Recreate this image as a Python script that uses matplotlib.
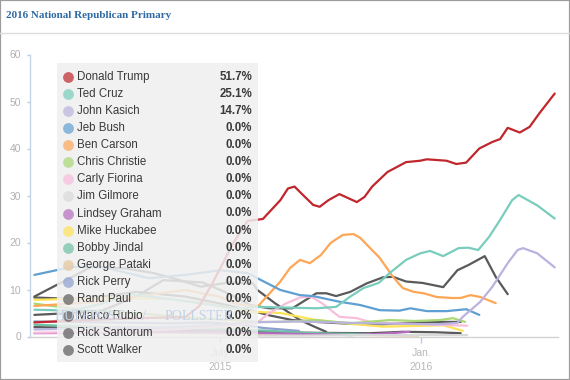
import matplotlib
matplotlib.use('Agg')
import matplotlib.pyplot as plt
import numpy as np
import pandas as pd
from matplotlib.patches import Rectangle
from matplotlib.lines import Line2D

# ---------------- data ----------------
candidates = ['Donald Trump', 'Ted Cruz', 'John Kasich', 'Jeb Bush', 'Ben Carson',
              'Chris Christie', 'Carly Fiorina', 'Jim Gilmore', 'Lindsey Graham',
              'Mike Huckabee', 'Bobby Jindal', 'George Pataki', 'Rick Perry',
              'Rand Paul', 'Marco Rubio', 'Rick Santorum', 'Scott Walker']
legend_values = ['51.7%', '25.1%', '14.7%', '0.0%', '0.0%', '0.0%', '0.0%', '0.0%',
                 '0.0%', '0.0%', '0.0%', '0.0%', '0.0%', '0.0%', '0.0%', '0.0%', '0.0%']
colors = ['#c0272d', '#79cdbd', '#b9b3dd', '#5f9fd1', '#fda656', '#a9d875',
          '#f9bddc', '#d9d9d9', '#b66cbd', '#fde357', '#6fc1a5', '#e5c59a',
          '#8d9fd0', '#5a5a5a', '#5a5a5a', '#5a5a5a', '#5a5a5a']

trump_dates = ['2015-01-12', '2015-03-01', '2015-05-01', '2015-05-30', '2015-06-12',
               '2015-06-24', '2015-07-13', '2015-07-26', '2015-08-09', '2015-08-25',
               '2015-09-01', '2015-09-07', '2015-09-13', '2015-09-24', '2015-09-30',
               '2015-10-08', '2015-10-18', '2015-11-03', '2015-11-10', '2015-11-17',
               '2015-12-01', '2015-12-18', '2015-12-31', '2016-01-06', '2016-01-24',
               '2016-02-02', '2016-02-11', '2016-02-23', '2016-03-06', '2016-03-13',
               '2016-03-20', '2016-03-31', '2016-04-09', '2016-04-18', '2016-05-02']
trump = [3.0, 3.5, 4.0, 4.1, 6.5, 11.4, 19.9, 24.6, 25.0, 29.0, 31.5, 31.9, 30.5, 28.0,
         27.6, 29.0, 30.3, 28.6, 29.7, 31.9, 35.0, 37.1, 37.4, 37.7, 37.4, 36.7, 37.0,
         40.0, 41.4, 42.0, 44.4, 43.4, 44.6, 47.5, 51.7]

cruz_dates = ['2015-01-12', '2015-02-15', '2015-03-15', '2015-04-10', '2015-05-15',
              '2015-06-15', '2015-07-15', '2015-08-06', '2015-09-27', '2015-10-15',
              '2015-10-28', '2015-11-09', '2015-11-23', '2015-12-03', '2015-12-18',
              '2015-12-31', '2016-01-09', '2016-01-21', '2016-02-04', '2016-02-13',
              '2016-02-22', '2016-03-03', '2016-03-13', '2016-03-24', '2016-03-30',
              '2016-04-16', '2016-05-02']
cruz = [5.7, 5.5, 7.0, 9.0, 8.0, 7.0, 6.0, 6.3, 6.0, 6.3, 8.5, 10.3, 11.4, 13.5, 16.3,
        17.7, 18.2, 17.1, 18.8, 18.9, 18.4, 21.2, 24.8, 29.0, 30.1, 27.9, 25.1]

kasich_dates = ['2015-01-12', '2015-03-15', '2015-05-15', '2015-07-01', '2015-07-28',
                '2015-09-05', '2015-10-15', '2015-11-15', '2015-12-15', '2016-01-15',
                '2016-02-03', '2016-02-08', '2016-02-24', '2016-03-06', '2016-03-20',
                '2016-03-29', '2016-04-03', '2016-04-16', '2016-05-02']
kasich = [1.5, 1.8, 2.0, 2.5, 3.0, 3.2, 3.0, 2.8, 2.7, 2.6, 2.9, 4.2, 7.4, 10.6, 15.6,
          18.4, 18.8, 17.7, 14.7]

bush_dates = ['2015-01-12', '2015-02-15', '2015-03-15', '2015-04-27', '2015-05-30',
              '2015-07-01', '2015-07-26', '2015-08-04', '2015-08-25', '2015-09-12',
              '2015-09-24', '2015-10-18', '2015-11-06', '2015-11-24', '2015-12-12',
              '2015-12-22', '2016-01-06', '2016-01-24', '2016-02-11', '2016-02-23']
bush = [13.1, 14.8, 14.8, 12.4, 13.1, 14.1, 13.5, 12.4, 9.9, 8.8, 8.6, 7.4, 6.7, 5.6,
        5.5, 6.0, 5.4, 5.4, 5.8, 4.6]

carson_dates = ['2015-01-12', '2015-02-15', '2015-03-15', '2015-04-15', '2015-05-30',
                '2015-06-30', '2015-07-13', '2015-08-04', '2015-08-25', '2015-09-03',
                '2015-09-12', '2015-09-21', '2015-10-01', '2015-10-10', '2015-10-21',
                '2015-10-31', '2015-11-06', '2015-11-24', '2015-12-06', '2015-12-15',
                '2015-12-25', '2016-01-03', '2016-01-15', '2016-01-28', '2016-02-06',
                '2016-02-15', '2016-02-24', '2016-03-09']
carson = [6.5, 7.0, 7.5, 8.5, 9.9, 8.5, 7.1, 6.3, 11.7, 14.6, 16.3, 15.6, 17.3, 19.9,
          21.6, 21.8, 21.0, 16.7, 12.7, 10.3, 9.5, 9.2, 8.4, 8.2, 8.2, 8.8, 8.4, 7.1]

christie_dates = ['2015-01-12', '2015-03-01', '2015-04-15', '2015-06-01', '2015-07-15',
                  '2015-08-04', '2015-08-25', '2015-09-27', '2015-10-28', '2015-12-03',
                  '2015-12-26', '2016-01-18', '2016-01-30', '2016-02-10']
christie = [7.0, 5.5, 5.0, 4.0, 3.5, 3.1, 3.1, 3.5, 2.8, 3.5, 3.3, 3.5, 3.9, 3.1]

fiorina_dates = ['2015-01-12', '2015-03-15', '2015-05-15', '2015-07-01', '2015-08-04',
                 '2015-08-15', '2015-08-30', '2015-09-12', '2015-09-22', '2015-10-02',
                 '2015-10-18', '2015-11-03', '2015-11-15', '2015-12-08', '2016-01-15',
                 '2016-02-12']
fiorina = [0.8, 1.0, 1.5, 2.0, 3.0, 5.0, 7.0, 8.3, 8.5, 7.1, 4.2, 3.9, 3.1, 2.8, 2.5, 2.3]

gilmore_dates = ['2015-07-28', '2015-09-15', '2015-11-01', '2015-12-15', '2016-02-12']
gilmore = [0.2, 0.2, 0.3, 0.3, 0.3]

graham_dates = ['2015-01-12', '2015-03-01', '2015-05-01', '2015-07-01', '2015-09-01',
                '2015-10-28', '2015-11-20', '2015-12-10', '2015-12-21']
graham = [0.7, 0.8, 1.0, 0.9, 0.6, 0.3, 0.5, 0.8, 1.0]

huckabee_dates = ['2015-01-12', '2015-03-15', '2015-05-15', '2015-06-20', '2015-07-28',
                  '2015-08-25', '2015-09-27', '2015-10-28', '2015-11-27', '2016-01-05',
                  '2016-01-21', '2016-02-08']
huckabee = [7.8, 8.2, 8.0, 7.0, 5.3, 5.0, 3.5, 2.7, 2.1, 2.3, 2.4, 1.2]

jindal_dates = ['2015-01-12', '2015-03-15', '2015-05-15', '2015-07-15', '2015-08-15',
                '2015-09-15', '2015-10-15', '2015-11-17']
jindal = [2.5, 2.0, 1.8, 1.5, 1.2, 0.8, 0.6, 0.5]

pataki_dates = ['2015-03-01', '2015-05-15', '2015-07-15', '2015-09-15', '2015-11-15',
                '2015-12-29']
pataki = [0.8, 0.8, 0.6, 0.4, 0.3, 0.2]

perry_dates = ['2015-01-12', '2015-03-15', '2015-05-15', '2015-06-20', '2015-07-20',
               '2015-08-10', '2015-09-11']
perry = [3.2, 3.0, 2.8, 3.0, 2.5, 1.8, 1.2]

paul_dates = ['2015-01-12', '2015-02-15', '2015-03-15', '2015-04-15', '2015-05-30',
              '2015-07-01', '2015-07-28', '2015-08-15', '2015-09-05', '2015-09-27',
              '2015-10-28', '2015-11-27', '2015-12-22', '2016-01-21', '2016-02-06']
paul = [8.3, 8.0, 8.5, 9.5, 8.5, 7.0, 5.6, 4.5, 3.5, 3.1, 2.7, 2.6, 2.9, 3.1, 3.1]

rubio_dates = ['2015-01-12', '2015-02-15', '2015-03-15', '2015-04-15', '2015-05-10',
               '2015-06-15', '2015-07-10', '2015-07-28', '2015-08-15', '2015-09-05',
               '2015-09-27', '2015-10-06', '2015-10-15', '2015-10-28', '2015-11-12',
               '2015-11-27', '2015-12-06', '2015-12-18', '2016-01-02', '2016-01-21',
               '2016-02-03', '2016-02-13', '2016-02-28', '2016-03-09', '2016-03-20']
rubio = [4.6, 5.0, 5.5, 8.5, 12.0, 11.5, 9.0, 6.7, 6.0, 6.0, 9.2, 9.2, 8.6, 9.5, 11.3,
         12.6, 12.7, 11.7, 11.4, 10.5, 14.1, 15.2, 17.1, 12.7, 9.0]

santorum_dates = ['2015-01-12', '2015-03-15', '2015-05-15', '2015-07-15', '2015-09-15',
                  '2015-11-15', '2015-12-15', '2016-01-15', '2016-02-06']
santorum = [2.0, 1.8, 1.5, 1.2, 0.8, 0.7, 1.0, 0.9, 0.7]

walker_dates = ['2015-01-12', '2015-02-10', '2015-03-05', '2015-04-05', '2015-05-01',
                '2015-05-25', '2015-06-13', '2015-07-10', '2015-07-31', '2015-08-04',
                '2015-08-20', '2015-09-12', '2015-09-26', '2015-10-06']
walker = [8.5, 12.0, 14.8, 14.5, 13.5, 12.0, 10.6, 11.5, 11.3, 9.9, 7.1, 3.5, 2.0, 1.0]

series_dates = [trump_dates, cruz_dates, kasich_dates, bush_dates, carson_dates,
                christie_dates, fiorina_dates, gilmore_dates, graham_dates, huckabee_dates,
                jindal_dates, pataki_dates, perry_dates, paul_dates, rubio_dates,
                santorum_dates, walker_dates]
series_values = [trump, cruz, kasich, bush, carson, christie, fiorina, gilmore, graham,
                 huckabee, jindal, pataki, perry, paul, rubio, santorum, walker]

y_ticks = [0, 10, 20, 30, 40, 50, 60]
x_tick_dates = ['2015-07-01', '2016-01-01']
x_tick_labels = ['July\n2015', 'Jan.\n2016']

# ---------------- figure ----------------
W, H = 570, 380
fig = plt.figure(figsize=(5.7, 3.8), dpi=100)
fig.patch.set_facecolor('white')

def fx(px):
    return px / W

def fy(py):
    return 1 - py / H

ax = fig.add_axes([fx(30), fy(336.5), fx(558) - fx(30), fy(54.5) - fy(336.5)])
ax.set_facecolor('white')

for i in range(len(candidates) - 1, -1, -1):
    d = pd.to_datetime(series_dates[i])
    ax.plot(d, series_values[i], color=colors[i], lw=1.6,
            solid_capstyle='round', solid_joinstyle='round', zorder=3 + (17 - i) * 0.01)

ax.set_ylim(0, 60)
ax.set_xlim(pd.Timestamp('2015-01-08'), pd.Timestamp('2016-05-05'))
ax.set_yticks(y_ticks)
ax.set_yticklabels([str(v) for v in y_ticks])
ax.set_xticks(pd.to_datetime(x_tick_dates))
ax.set_xticklabels(x_tick_labels, linespacing=1.6)

for s in ['top', 'right']:
    ax.spines[s].set_visible(False)
ax.spines['left'].set_color('#c6d5e6')
ax.spines['bottom'].set_color('#d2d2d2')
ax.spines['left'].set_linewidth(1.0)
ax.spines['bottom'].set_linewidth(1.0)
ax.tick_params(axis='y', direction='out', length=2.5, width=1, color='#b9cde4',
               labelcolor='#b0b0b0', labelsize=7.5, pad=4)
ax.tick_params(axis='x', direction='out', length=4, width=1, color='#b9cde4',
               labelcolor='#b8b8b8', labelsize=7.5, pad=4)
for lab in ax.get_xticklabels() + ax.get_yticklabels():
    lab.set_fontfamily('Liberation Sans')

# watermark
fig.text(fx(55), fy(316), 'HUFFPOST', family='Liberation Serif', fontsize=10,
         color='#c3d2e8', va='center', ha='left', zorder=2)
fig.text(fx(144), fy(316), '/', family='Liberation Serif', fontsize=11,
         color='#c3d2e8', va='center', ha='center', zorder=2)
fig.text(fx(165), fy(316), 'POLLSTER', family='Liberation Serif', fontsize=10,
         color='#c3d2e8', va='center', ha='left', zorder=2)

# legend box (drawn over everything)
lax = fig.add_axes([fx(57), fy(362), fx(258) - fx(57), fy(63) - fy(362)])
lax.set_xlim(57, 258)
lax.set_ylim(362, 63)
lax.patch.set_facecolor('#efefef')
lax.patch.set_alpha(0.86)
for s in lax.spines.values():
    s.set_visible(False)
lax.set_xticks([])
lax.set_yticks([])
for i, name in enumerate(candidates):
    yy = 76.7 + i * 17.1
    lax.plot([68], [yy], 'o', ms=7.8, color=colors[i], alpha=0.7, mec='none')
    lax.text(77, yy, name, va='center', ha='left', fontsize=8.3,
             family='Liberation Sans', color='#3a3a3a')
    lax.text(252, yy, legend_values[i], va='center', ha='right', fontsize=8.3,
             family='Liberation Sans', fontweight='bold', color='#3a3a3a')

# title, divider and frame
fig.text(fx(6), fy(16), '2016 National Republican Primary', family='Liberation Serif',
         fontweight='bold', fontsize=8, color='#2f6aa3', va='center', ha='left')
fig.add_artist(Line2D([0, 1], [fy(33), fy(33)], transform=fig.transFigure,
                      color='#dcdcdc', lw=1))
fig.add_artist(Rectangle((0, 0), 1, 1, transform=fig.transFigure, fill=False,
                         edgecolor='#9c9c9c', lw=1.6))

fig.savefig('out.png', dpi=100, facecolor='white')
